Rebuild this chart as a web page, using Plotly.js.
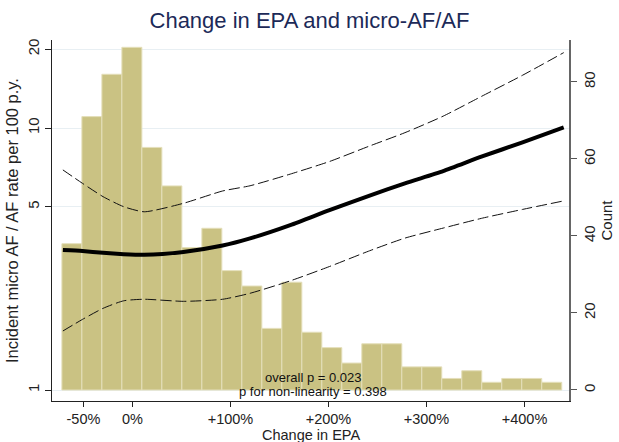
<!DOCTYPE html>
<html>
<head>
<meta charset="utf-8">
<script src="https://cdn.plot.ly/plotly-3.0.1.min.js"></script>
<style>html,body{margin:0;padding:0;background:#fff;}#chart{width:619px;height:442px;}</style>
</head>
<body>
<div id="chart"></div>
<script>
// Histogram of change in EPA (%), bin centers and counts
var binCenters = [-61.8, -41.4, -21, -0.6, 19.8, 40.2, 60.6, 81, 101.4, 121.8, 142.2, 162.6, 183, 203.4, 223.8, 244.2, 264.6, 285, 305.4, 325.8, 346.2, 366.6, 387, 407.4, 427.8];
var binWidth = 20.4;
var counts = [38, 71, 82, 89, 63, 53, 37, 42, 31, 27, 16, 28, 15, 11, 7, 12, 12, 6, 6, 3, 5, 2, 3, 3, 2];

// Spline estimate of incident rate (per 100 p.y.) with 95% CI
var curveX = [-71, -51, -30, -9, 12, 52, 92, 120, 161, 201, 242, 278, 317, 356, 398, 440];
var rateEst = [3.42, 3.39, 3.34, 3.30, 3.28, 3.365, 3.56, 3.79, 4.26, 4.86, 5.52, 6.15, 6.85, 7.77, 8.82, 10.06];
var rateUpper = [6.92, 6.15, 5.47, 5.01, 4.79, 5.16, 5.75, 6.02, 6.67, 7.45, 8.54, 9.6, 11.1, 13.2, 15.9, 19.4];
var rateLower = [1.68, 1.86, 2.05, 2.19, 2.22, 2.18, 2.22, 2.34, 2.61, 2.96, 3.40, 3.80, 4.15, 4.52, 4.89, 5.27];

var xTickVals = [-50, 0, 100, 200, 300, 400];
var xTickText = ['-50%', '0%', '+100%', '+200%', '+300%', '+400%'];
var rateTicks = [1, 5, 10, 20];
var countTicks = [0, 20, 40, 60, 80];

var widths = binCenters.map(function(){ return binWidth; });
var FONT = 'Arial, Liberation Sans, sans-serif';

var traces = [
  {
    type: 'bar', x: binCenters, y: counts, width: widths, yaxis: 'y',
    marker: {color: '#cac283', line: {color: '#e4dfba', width: 1}},
    hoverinfo: 'skip', showlegend: false
  },
  {
    type: 'scatter', mode: 'lines', x: curveX, y: rateUpper, yaxis: 'y2',
    line: {color: '#111', width: 1, dash: '11px,4px', shape: 'spline', smoothing: 0.6},
    showlegend: false
  },
  {
    type: 'scatter', mode: 'lines', x: curveX, y: rateLower, yaxis: 'y2',
    line: {color: '#111', width: 1, dash: '11px,4px', shape: 'spline', smoothing: 0.6},
    showlegend: false
  },
  {
    type: 'scatter', mode: 'lines', x: curveX, y: rateEst, yaxis: 'y2',
    line: {color: '#000', width: 4, shape: 'spline', smoothing: 0.6},
    showlegend: false
  }
];

var tickFont = {family: FONT, size: 15, color: '#222'};

var layout = {
  width: 619, height: 442,
  margin: {l: 52, r: 50, t: 40, b: 41},
  paper_bgcolor: '#fff', plot_bgcolor: '#fff',
  font: {family: FONT, color: '#222'},
  title: {
    text: 'Change in EPA and micro-AF/AF',
    font: {family: FONT, size: 22, color: '#1c2a58'},
    x: 0.5, xanchor: 'center', y: 0.953, yanchor: 'middle'
  },
  bargap: 0,
  xaxis: {
    range: [-82.1, 445.4], tickvals: xTickVals, ticktext: xTickText,
    ticks: 'outside', ticklen: 5, tickcolor: '#222', tickwidth: 1,
    showline: true, linecolor: '#222', linewidth: 1, showgrid: false, zeroline: false,
    tickfont: {family: FONT, size: 14.5, color: '#222'},
    automargin: false
  },
  yaxis: {
    side: 'right', range: [-2.86, 90.9], tickvals: countTicks,
    ticks: 'outside', ticklen: 6, tickcolor: '#555', tickwidth: 1, tickangle: -90,
    showline: true, linecolor: '#666', linewidth: 1.5, showgrid: false, zeroline: false,
    tickfont: tickFont,
    title: {text: 'Count', font: {family: FONT, size: 15, color: '#222'}, standoff: 2},
    automargin: false
  },
  yaxis2: {
    type: 'log', side: 'left', overlaying: 'y', range: [-0.042, 1.336],
    tickvals: rateTicks, ticktext: ['1', '5', '10', '20'],
    ticks: 'outside', ticklen: 6, tickcolor: '#222', tickwidth: 1, tickangle: -90,
    showline: true, linecolor: '#222', linewidth: 1, showgrid: true, gridcolor: '#e8eff3', gridwidth: 1,
    zeroline: false, tickfont: tickFont,
    title: {text: 'Incident micro AF / AF rate per 100 p.y.', font: {family: FONT, size: 16.5, color: '#222'}, standoff: 2},
    automargin: false
  },
  annotations: [
    {xref: 'paper', yref: 'paper', x: 0.505, y: 0.066, text: 'overall p = 0.023', showarrow: false,
     xanchor: 'center', yanchor: 'middle', font: {family: FONT, size: 13, color: '#111'}},
    {xref: 'paper', yref: 'paper', x: 0.505, y: 0.027, text: 'p for non-linearity = 0.398', showarrow: false,
     xanchor: 'center', yanchor: 'middle', font: {family: FONT, size: 13, color: '#111'}},
    {xref: 'paper', yref: 'paper', x: 0.5, y: -0.0935, text: 'Change in EPA', showarrow: false,
     xanchor: 'center', yanchor: 'middle', font: {family: FONT, size: 14.5, color: '#222'}}
  ]
};

Plotly.newPlot('chart', traces, layout, {displayModeBar: false, staticPlot: true});
</script>
</body>
</html>
